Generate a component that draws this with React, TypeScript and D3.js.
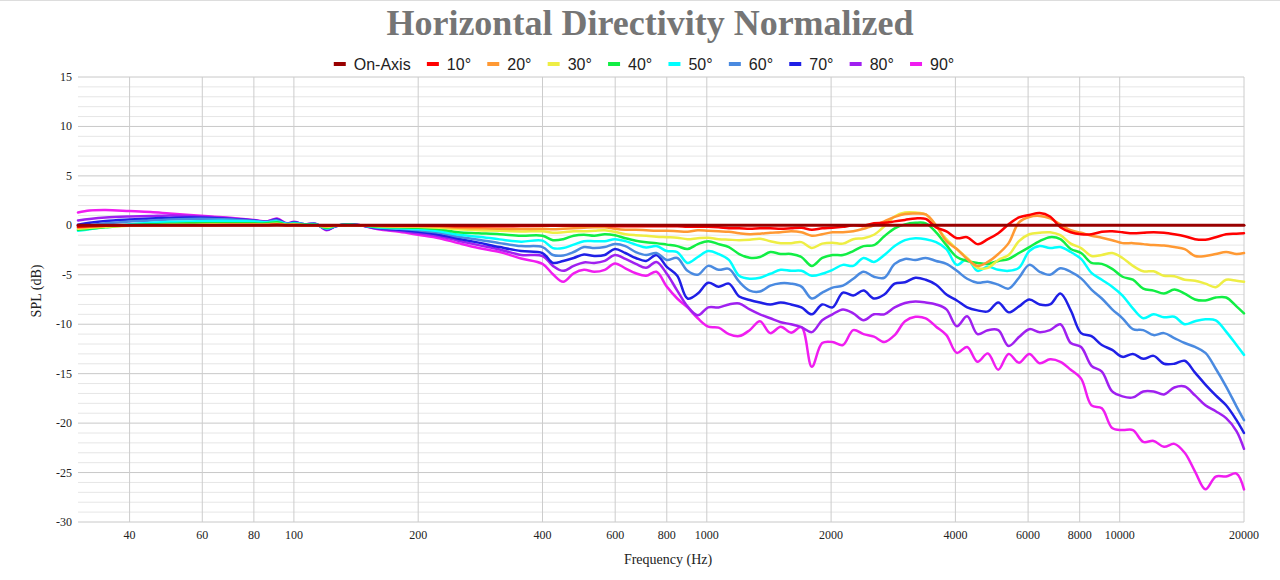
import * as d3 from "d3";

// frequency points (Hz) shared by all angle curves
const freqs = [
  30, 32, 35, 40, 45, 50, 56, 63, 71, 80, 86, 91, 96, 100, 106, 113, 120, 126, 135, 145, 160, 180, 200, 225, 250, 280, 315, 355,
  400, 424, 449, 476, 504, 534, 566, 599, 635, 673, 713, 755, 800, 848, 898, 951, 1008, 1068, 1131, 1198, 1270, 1345, 1425, 1510,
  1600, 1695, 1796, 1903, 2016, 2136, 2263, 2397, 2540, 2691, 2851, 3020, 3200, 3390, 3592, 3805, 4032, 4271, 4525, 4794, 5080,
  5382, 5702, 6041, 6400, 6780, 7184, 7611, 8063, 8543, 9051, 9589, 10159, 10763, 11404, 12081, 12800, 13561, 14368, 15222,
  16127, 17086, 18102, 19178, 20000,
];

// on-axis is the reference, flat at 0 dB
const onAxisFreqs = [30, 20000];
const onAxisSpl = [0, 0];

const spl10 = [
  -0.15, -0.1, -0.05, 0, 0, 0, 0, 0, 0, 0, 0, 0.05, 0, 0, 0, 0, -0.05, 0, 0, 0, 0, -0.05, -0.05, -0.05, -0.1, -0.1, -0.1, -0.07,
  -0.05, -0.05, -0.05, -0.05, -0.05, -0.05, -0.05, -0.1, -0.1, -0.1, -0.1, -0.1, -0.1, -0.1, -0.15, -0.15, -0.15, -0.2, -0.3, -0.3,
  -0.35, -0.3, -0.3, -0.35, -0.3, -0.25, -0.45, -0.3, -0.25, -0.15, 0.0, -0.05, 0.2, 0.25, 0.4, 0.55, 0.7, 0.65, -0.2, -0.6, -1.3,
  -1.2, -1.9, -1.4, -0.8, 0.1, 0.8, 1.05, 1.25, 0.9, -0.2, -0.7, -0.9, -0.9, -0.65, -0.6, -0.7, -0.8, -0.75, -0.7, -0.75, -0.9,
  -1.1, -1.4, -1.45, -1.2, -0.9, -0.85, -0.8,
];
const spl20 = [
  -0.25, -0.15, -0.05, 0, 0, 0, 0, 0, 0.05, 0.05, 0.05, 0.1, 0, 0.05, 0, 0, -0.1, 0, 0, 0, -0.05, -0.1, -0.1, -0.15, -0.25, -0.3, -0.35, -0.37,
  -0.35, -0.4, -0.35, -0.3, -0.25, -0.2, -0.2, -0.35, -0.45, -0.45, -0.5, -0.55, -0.55, -0.6, -0.65, -0.5, -0.55, -0.6, -0.65, -0.8,
  -0.9, -0.85, -0.75, -0.7, -0.6, -0.7, -1.05, -0.9, -0.7, -0.7, -0.6, -0.35, 0.0, 0.4, 0.85, 1.15, 1.2, 1.1, 0.0, -1.6, -2.4,
  -3.4, -4.1, -3.7, -2.9, -1.8, 0.3, 0.85, 0.95, 0.7, 0.1, -0.5, -0.75, -1.05, -1.25, -1.5, -1.8, -1.8, -1.9, -2.0, -2.05, -2.2,
  -2.4, -3.1, -3.1, -2.9, -2.7, -2.9, -2.8,
];
const spl30 = [
  -0.35, -0.25, -0.15, -0.05, 0, 0.05, 0.05, 0.1, 0.1, 0.1, 0.1, 0.15, 0.05, 0.1, 0, 0, -0.15, -0.05, 0, 0, -0.1, -0.15, -0.15, -0.25, -0.4, -0.5, -0.55, -0.62,
  -0.6, -0.75, -0.7, -0.6, -0.6, -0.55, -0.5, -0.65, -0.9, -1.0, -1.05, -1.15, -1.2, -1.25, -1.4, -1.3, -1.25, -1.4, -1.45, -1.5,
  -1.45, -1.35, -1.6, -1.8, -1.8, -1.7, -2.3, -1.85, -1.75, -1.85, -1.4, -1.3, -0.95, -0.1, 0.9, 1.3, 1.3, 1.1, -0.1, -1.4, -2.4,
  -3.3, -4.3, -4.3, -3.5, -3.0, -1.6, -0.9, -0.75, -0.7, -1.0, -1.85, -2.3, -3.1, -3.0, -2.8, -3.3, -4.1, -4.65, -4.65, -5.1, -5.15,
  -5.5, -5.6, -5.9, -6.25, -5.5, -5.6, -5.7,
];
const spl40 = [
  -0.45, -0.35, -0.2, 0, 0.1, 0.15, 0.2, 0.2, 0.2, 0.2, 0.2, 0.3, 0.1, 0.15, 0.05, 0.05, -0.25, -0.05, 0.05, 0, -0.15, -0.2, -0.25, -0.4, -0.7, -0.8, -0.9, -1.05,
  -1.05, -1.5, -1.4, -1.05, -0.95, -1.05, -0.9, -1.0, -1.3, -1.55, -1.7, -1.8, -1.95, -2.1, -2.4, -1.9, -1.6, -1.9, -2.2, -2.9,
  -3.27, -3.2, -2.7, -2.9, -2.9, -3.2, -4.1, -3.3, -3.0, -3.0, -2.6, -2.1, -2.0, -1.1, -0.3, 0.1, 0.25, 0.2, -0.7, -2.0, -3.2,
  -3.6, -3.8, -3.9, -3.6, -3.4, -2.8, -2.2, -1.6, -1.2, -1.4, -2.4, -2.8, -3.8, -3.9, -4.4, -5.2, -5.5, -6.4, -6.6, -6.9, -6.5,
  -6.9, -7.5, -7.6, -7.3, -7.3, -8.2, -8.9,
];
const spl50 = [
  -0.55, -0.4, -0.15, 0.1, 0.25, 0.35, 0.4, 0.45, 0.45, 0.4, 0.3, 0.4, 0.15, 0.2, 0.1, 0.1, -0.3, -0.05, 0.05, 0, -0.2, -0.3, -0.4, -0.6, -0.95, -1.15, -1.42, -1.65,
  -1.55, -2.3, -2.3, -1.95, -1.6, -1.6, -1.6, -1.4, -1.6, -1.95, -2.25, -2.1, -2.6, -2.7, -3.8, -3.2, -2.6, -2.9, -3.5, -5.1,
  -5.4, -5.3, -4.9, -4.5, -4.6, -4.6, -5.1, -4.9, -4.5, -4.0, -4.1, -3.3, -3.7, -3.0, -2.1, -1.5, -1.3, -1.4, -1.7, -2.4, -4.0,
  -3.4, -4.6, -4.2, -4.5, -4.6, -4.3, -2.6, -2.1, -2.3, -2.2, -2.7, -3.4, -4.8, -5.5, -6.2, -7.1, -8.4, -9.4, -9.0, -9.3, -9.25,
  -10.0, -9.7, -9.5, -9.6, -10.75, -12.1, -13.1,
];
const spl60 = [
  -0.2, 0, 0.2, 0.4, 0.5, 0.6, 0.65, 0.65, 0.6, 0.45, 0.35, 0.5, 0.15, 0.25, 0.1, 0.1, -0.35, -0.1, 0.05, 0, -0.25, -0.35, -0.5, -0.75, -1.15, -1.45, -1.8, -2.1,
  -2.2, -3.0, -3.05, -2.7, -2.2, -2.3, -2.2, -1.9, -2.1, -2.7, -3.0, -2.8, -3.5, -3.3, -4.6, -5.0, -4.1, -4.5, -4.4, -5.7,
  -6.6, -6.7, -6.1, -5.86, -5.9, -6.2, -7.4, -6.8, -6.3, -6.1, -5.4, -4.7, -5.2, -5.3, -3.9, -3.4, -3.5, -3.3, -3.6, -3.9, -4.6,
  -5.4, -5.8, -5.7, -6.0, -6.4, -5.3, -4.0, -4.7, -5.0, -4.35, -4.7, -5.36, -6.5, -7.4, -8.5, -9.4, -10.5, -10.6, -11.1, -10.9,
  -11.4, -11.9, -12.3, -12.9, -14.5, -16.3, -18.3, -19.7,
];
const spl70 = [
  0.05, 0.25, 0.45, 0.6, 0.7, 0.75, 0.8, 0.75, 0.65, 0.5, 0.35, 0.6, 0.15, 0.3, 0.1, 0.15, -0.4, -0.1, 0.1, 0, -0.3, -0.45, -0.65, -0.95, -1.35, -1.75, -2.2, -2.6,
  -2.8, -3.8, -3.6, -3.3, -2.95, -3.1, -3.0, -2.4, -2.8, -3.3, -3.6, -3.0, -4.2, -5.1, -7.4, -6.9, -5.8, -6.2, -5.9, -7.2,
  -7.55, -7.8, -8.0, -7.8, -8.0, -8.3, -9.0, -8.0, -8.3, -6.8, -7.1, -6.6, -7.4, -7.0, -5.9, -5.75, -5.3, -5.5, -6.0, -7.0, -7.6,
  -8.3, -8.6, -8.7, -7.8, -8.8, -8.2, -7.5, -8.0, -8.0, -6.9, -8.6, -10.9, -11.2, -12.1, -12.6, -13.3, -13.0, -13.5, -13.2, -14.0,
  -14.0, -13.7, -14.9, -16.1, -17.2, -18.2, -19.7, -21.0,
];
const spl80 = [
  0.5, 0.65, 0.8, 0.9, 0.95, 1.0, 0.95, 0.85, 0.7, 0.5, 0.4, 0.65, 0.2, 0.3, 0.1, 0.15, -0.45, -0.1, 0.1, 0, -0.35, -0.55, -0.8, -1.1, -1.55, -2.0, -2.45, -3.0,
  -3.1, -4.1, -4.6, -4.1, -3.75, -3.8, -3.6, -3.0, -3.4, -3.9, -4.3, -3.7, -4.9, -6.6, -8.2, -9.1, -8.3, -8.3, -8.0, -7.9,
  -8.5, -9.0, -9.4, -9.8, -10.0, -10.3, -10.8, -9.6, -9.0, -8.5, -8.9, -9.6, -9.0, -9.0, -8.3, -7.85, -7.7, -7.8, -8.0, -8.5, -10.2,
  -9.2, -11.0, -10.6, -10.6, -12.2, -11.3, -10.5, -10.8, -10.6, -10.0, -11.9, -12.3, -14.2, -14.8, -16.8, -17.3, -17.4, -16.8, -16.8,
  -17.1, -16.4, -16.3, -17.2, -18.2, -18.8, -19.5, -20.8, -22.6,
];
const spl90 = [
  1.3, 1.5, 1.55, 1.45, 1.35, 1.2, 1.05, 0.9, 0.75, 0.55, 0.4, 0.7, 0.2, 0.35, 0.1, 0.15, -0.5, -0.1, 0.1, 0, -0.4, -0.65, -0.95, -1.3, -1.8, -2.3, -2.7, -3.35,
  -3.9, -4.95, -5.7, -4.85, -4.5, -4.7, -4.5, -3.85, -4.35, -4.85, -5.1, -4.7, -6.2, -7.4, -8.3, -9.4, -10.25, -10.35, -11.0, -11.2,
  -10.6, -9.7, -10.9, -10.25, -10.85, -10.3, -14.3, -11.9, -11.8, -12.1, -10.6, -11.0, -11.25, -11.8, -11.1, -9.7, -9.25, -9.4,
  -10.25, -11.1, -12.9, -12.3, -13.8, -12.95, -14.6, -13.0, -13.9, -13.0, -13.95, -13.55, -13.8, -14.6, -15.5, -18.2, -18.5, -20.5,
  -20.7, -20.7, -21.9, -21.8, -22.4, -22.1, -23.0, -24.9, -26.7, -25.4, -25.4, -25.1, -26.7,
];

const labels = ["On-Axis", "10°", "20°", "30°", "40°", "50°", "60°", "70°", "80°", "90°"];
const colors = ["#990000", "#ff0000", "#ff9933", "#eeee44", "#11ee44", "#00ffff", "#4a8ae0", "#1f1fe6", "#a020f0", "#f01df0"];

const xTicks = [40, 60, 80, 100, 200, 400, 600, 800, 1000, 2000, 4000, 6000, 8000, 10000, 20000];
const yTicks = [-30, -25, -20, -15, -10, -5, 0, 5, 10, 15];

const serif = "'Liberation Serif', 'Times New Roman', serif";
const sans = "'Liberation Sans', Arial, sans-serif";

function textWidth(text: string, font: string) {
  const ctx = document.createElement("canvas").getContext("2d");
  if (!ctx) return text.length * 8;
  ctx.font = font;
  return ctx.measureText(text).width;
}

export default function App() {
  const width = 1280;
  const height = 580;

  const x = d3.scaleLog().domain([30, 20000]).range([78, 1244]);
  const y = d3.scaleLinear().domain([-30, 15]).range([522, 77]);

  const line = d3
    .line<[number, number]>()
    .x((d) => x(d[0]))
    .y((d) => y(d[1]))
    .curve(d3.curveCatmullRom.alpha(0.5));

  const angleValues = [spl10, spl20, spl30, spl40, spl50, spl60, spl70, spl80, spl90];
  const series = [
    { label: labels[0], color: colors[0], points: onAxisFreqs.map((f, i) => [f, onAxisSpl[i]] as [number, number]) },
    ...angleValues.map((vals, k) => ({
      label: labels[k + 1],
      color: colors[k + 1],
      points: freqs.map((f, i) => [f, vals[i]] as [number, number]).filter((p) => p[1] !== undefined),
    })),
  ];

  const minorLines = d3.range(-30, 16, 1);

  // legend layout
  const legendFont = `16px ${sans}`;
  const items = labels.map((l) => ({ l, w: 20 + textWidth(l, legendFont) }));
  const gap = 16.2;
  const total = d3.sum(items, (d) => d.w) + gap * (items.length - 1);
  let cursor = 644 - total / 2;
  const legend = items.map((it, i) => {
    const pos = cursor;
    cursor += it.w + gap;
    return { ...it, x: pos, color: colors[i] };
  });

  return (
    <div style={{ position: "absolute", left: 0, top: 0, background: "#fff" }}>
      <svg width={width} height={height} style={{ display: "block" }}>
        <rect width={width} height={height} fill="#fff" />
        <line x1={0} x2={width} y1={0.5} y2={0.5} stroke="#ddd" />

        {/* title */}
        <text x={650} y={35} textAnchor="middle" fontFamily={serif} fontWeight="bold" fontSize={36} fill="#757575">
          Horizontal Directivity Normalized
        </text>

        {/* legend */}
        {legend.map((d) => (
          <g key={d.l}>
            <rect x={d.x} y={62} width={12} height={4} fill={d.color} />
            <text x={d.x + 20} y={70} fontFamily={sans} fontSize={16} fill="#222">
              {d.l}
            </text>
          </g>
        ))}

        {/* horizontal grid */}
        {minorLines.map((v) => (
          <line
            key={"h" + v}
            x1={78}
            x2={1244}
            y1={y(v)}
            y2={y(v)}
            stroke={v % 5 === 0 ? "#c8c8c8" : "#e6e6e6"}
            strokeWidth={1}
          />
        ))}
        {/* vertical grid */}
        {xTicks.map((t) => (
          <line key={"v" + t} x1={x(t)} x2={x(t)} y1={77} y2={522} stroke="#cccccc" strokeWidth={1} />
        ))}

        {/* y tick labels */}
        {yTicks.map((t) => (
          <text key={"yl" + t} x={72} y={y(t) + 4} textAnchor="end" fontFamily={serif} fontSize={12} fill="#222">
            {t}
          </text>
        ))}
        {/* x tick labels */}
        {xTicks.map((t) => (
          <text key={"xl" + t} x={x(t)} y={539} textAnchor="middle" fontFamily={serif} fontSize={12} fill="#222">
            {t}
          </text>
        ))}

        <text x={668} y={564} textAnchor="middle" fontFamily={serif} fontSize={14} fill="#222">
          Frequency (Hz)
        </text>
        <text
          transform="translate(41,291) rotate(-90)"
          textAnchor="middle"
          fontFamily={serif}
          fontSize={14}
          fill="#222"
        >
          SPL (dB)
        </text>

        {/* curves, widest angle at the bottom, on-axis on top */}
        {series
          .slice()
          .reverse()
          .map((s) => (
            <path
              key={s.label}
              d={line(s.points) ?? ""}
              fill="none"
              stroke={s.color}
              strokeWidth={s.label === "On-Axis" ? 3 : 2.5}
              strokeLinejoin="round"
              strokeLinecap="round"
            />
          ))}
      </svg>
    </div>
  );
}
